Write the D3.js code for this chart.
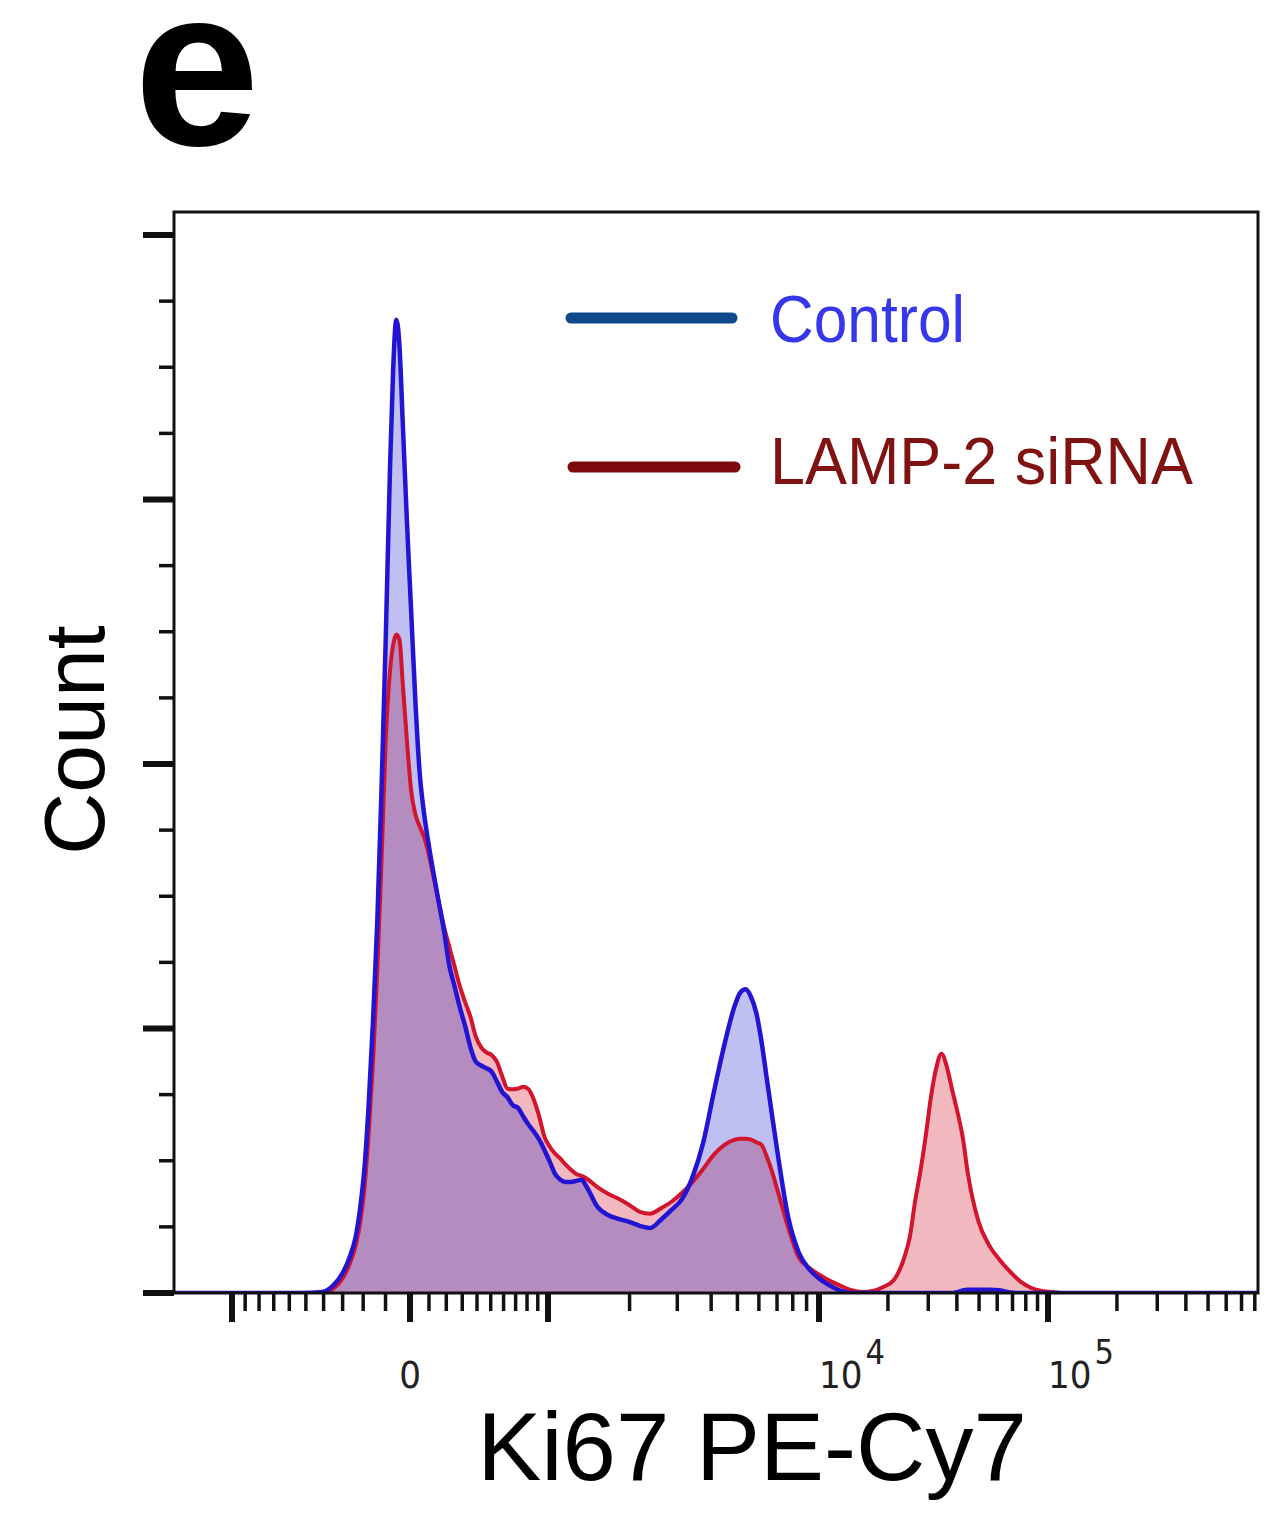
<!DOCTYPE html>
<meta charset="utf-8">
<style>
body { margin: 0; background: #fff; }
svg { display: block; }
.sans { font-family: "Liberation Sans", Arial, Helvetica, sans-serif; }
.flow { font-family: "DejaVu Sans Condensed", "DejaVu Sans", sans-serif; font-stretch: condensed; }
</style>
<svg width="1282" height="1519"></svg>
<script src="https://cdn.jsdelivr.net/npm/d3@7/dist/d3.min.js"></script>
<script>

// histogram, binned on FlowJo display channels (0-1024)
var channel = [0,120,140,150,160,166,172,176,180,184,188,192,196,200,204,207,210,213,216,220,
  224,228,232,236,240,245,250,255,260,265,270,275,280,285,290,295,300,305,310,315,
  320,325,330,335,340,345,350,355,360,365,370,375,380,385,390,400,410,420,430,440,
  450,460,470,480,490,500,510,520,530,535,540,545,550,555,560,565,570,580,590,600,
  610,620,630,640,650,660,670,680,690,695,700,705,710,715,720,725,730,735,740,745,
  750,760,770,780,790,800,810,820,830,840,850,860,880,900,1024];

var control = [0,0,0.4,2.7,8,13.6,22,32.6,47.7,72,103,140,190,247,311,349,368,358,330,292,
  258,224,197,182,171,159,148,137,124,116,108,101,93,87.5,86,85,83.7,80,76,74,
  71,70,66.7,63.6,61,58,54,49.6,45,42.8,42,42,42.4,42.8,40,32.6,29.5,28,26.9,25.4,
  24.6,27.7,31.4,35.6,44,57,76,94,109,113.6,114.8,112,106,95,81,67,53.4,29,15.5,9,
  5.3,2.7,0.8,0,0,0,0,0,0,0,0,0,0,0,0,0,0,0,0.3,1,
  1.2,1.2,1.2,1,0.2,0,0,0,0,0,0,0,0,0,0];

var lamp2 = [0,0,0,1.5,6,11,18.6,27,40,61,87.5,121.6,163,209,235,245,249,247,231,209,
  190,181,176.5,172.7,167,157.6,148,138.6,131,123.5,116,110,104.5,97,93,91,90,87.5,82,77.3,
  77,77.3,78,77,73,66.7,59,55.3,52.7,50.8,48.5,46.6,45,44.3,43.2,40,37.5,35.6,33.3,30.7,
  30,32,34.5,37.9,42,47,52.3,56,58,58.3,58.3,58,57,56,51.5,45.8,39,25,13.6,9.5,
  6.8,4.5,2.7,1.1,0.4,0.8,2.3,4.9,13.6,21,34.5,45.8,59,74,85,90.5,85.6,77,68.6,59,
  45,27,18,12.5,8,4.2,1.9,0.8,0.4,0,0,0,0,0,0];

var seriesNames = ["Control", "LAMP-2 siRNA"];

// axis values
var xMajor = [-1000, 0, 1e3, 1e4, 1e5];
var xLabelValues = [0, 1e4, 1e5];
var xLabelExp = ["", "4", "5"];
var yMajor = [0, 100, 200, 300, 400];

var svg = d3.select("svg");
var frame = {left: 174, top: 212, right: 1258, bottom: 1293};

var xChan = d3.scaleLinear().domain([0, 1024]).range([frame.left, frame.right]);
var y = d3.scaleLinear().domain([0, 408.7]).range([frame.bottom, frame.top]);

// biexponential-like display: symlog around zero, log above 10^3
var xNear = d3.scaleSymlog().constant(1000).domain([-1000, 0, 1000]).range([232, 410, 548]);
var xFar = d3.scaleLog().domain([1e3, 1e4, 1e5]).range([548, 819, 1048]);
function xVal(v) { return v > 1000 ? xFar(v) : xNear(v); }

var rows = channel.map(function(c, i) {
  return {c: c, a: control[i], b: lamp2[i], m: Math.min(control[i], lamp2[i])};
});

svg.append("clipPath").attr("id", "plotclip")
  .append("rect")
    .attr("x", frame.left).attr("y", frame.top)
    .attr("width", frame.right - frame.left).attr("height", frame.bottom - frame.top);

var plot = svg.append("g").attr("clip-path", "url(#plotclip)");

function area(key) {
  return d3.area().curve(d3.curveMonotoneX)
    .x(function(d) { return xChan(d.c); })
    .y0(y(0))
    .y1(function(d) { return y(d[key]); });
}
function line(key) {
  return d3.line().curve(d3.curveMonotoneX)
    .x(function(d) { return xChan(d.c); })
    .y(function(d) { return y(d[key]); });
}

plot.append("path").datum(rows).attr("d", area("a")).attr("fill", "#bfbff2");
plot.append("path").datum(rows).attr("d", area("b")).attr("fill", "#f1b9bf");
plot.append("path").datum(rows).attr("d", area("m")).attr("fill", "#b58cc0");

plot.append("path").datum(rows).attr("d", line("b"))
  .attr("fill", "none").attr("stroke", "#d2142c").attr("stroke-width", 4)
  .attr("stroke-linejoin", "round");
plot.append("path").datum(rows).attr("d", line("a"))
  .attr("fill", "none").attr("stroke", "#2214d2").attr("stroke-width", 4.5)
  .attr("stroke-linejoin", "round");

// frame
svg.append("rect")
  .attr("x", frame.left).attr("y", frame.top)
  .attr("width", frame.right - frame.left).attr("height", frame.bottom - frame.top)
  .attr("fill", "none").attr("stroke", "#111").attr("stroke-width", 3);

// y ticks
var yMinor = d3.range(0, 401, 25).filter(function(v) { return yMajor.indexOf(v) < 0; });
svg.append("g").selectAll("line").data(yMajor).enter().append("line")
  .attr("x1", 143).attr("x2", frame.left)
  .attr("y1", function(d) { return y(d); }).attr("y2", function(d) { return y(d); })
  .attr("stroke", "#111").attr("stroke-width", 6);
svg.append("g").selectAll("line").data(yMinor).enter().append("line")
  .attr("x1", 159).attr("x2", frame.left)
  .attr("y1", function(d) { return y(d); }).attr("y2", function(d) { return y(d); })
  .attr("stroke", "#111").attr("stroke-width", 3.5);

// x ticks
var xMinor = d3.range(-900, 1000, 100).filter(function(v) { return v !== 0; })
  .concat(d3.scaleLog().domain([1e3, 8e5]).ticks())
  .filter(function(v) { return xMajor.indexOf(v) < 0 && xVal(v) < frame.right - 2; });

svg.append("g").selectAll("line").data(xMinor).enter().append("line")
  .attr("x1", xVal).attr("x2", xVal)
  .attr("y1", frame.bottom).attr("y2", 1311)
  .attr("stroke", "#111").attr("stroke-width", 3.5);
svg.append("g").selectAll("line").data(xMajor).enter().append("line")
  .attr("x1", xVal).attr("x2", xVal)
  .attr("y1", frame.bottom).attr("y2", 1322)
  .attr("stroke", "#111").attr("stroke-width", 6);

// x tick labels
var labels = svg.append("g").attr("class", "flow").attr("fill", "#222");
xLabelValues.forEach(function(v, i) {
  var t = labels.append("text")
    .attr("x", xVal(v)).attr("y", 1388)
    .attr("font-size", 38)
    .attr("text-anchor", xLabelExp[i] ? "start" : "middle");
  if (xLabelExp[i]) {
    t.append("tspan").text("10");
    t.append("tspan").attr("dx", 3).attr("dy", -24).attr("font-size", 34).text(xLabelExp[i]);
  } else {
    t.text("0");
  }
});

// axis titles
svg.append("text").attr("class", "sans")
  .attr("x", 752).attr("y", 1480)
  .attr("text-anchor", "middle").attr("font-size", 96).attr("fill", "#000")
  .text("Ki67 PE-Cy7");

svg.append("text").attr("class", "sans")
  .attr("transform", "translate(104,740) rotate(-90)")
  .attr("text-anchor", "middle").attr("font-size", 86).attr("fill", "#000")
  .text("Count");

// panel letter
svg.append("text").attr("class", "sans")
  .attr("x", 134).attr("y", 145)
  .attr("font-size", 226).attr("font-weight", "bold").attr("fill", "#000")
  .text("e");

// legend
var legend = [
  {name: seriesNames[0], line: "#0f4a8c", text: "#3636ea", x1: 571, x2: 732, ly: 318, ty: 342, len: 195},
  {name: seriesNames[1], line: "#7c0a0c", text: "#801212", x1: 573, x2: 735, ly: 467, ty: 484, len: 423}
];
var lg = svg.append("g");
lg.selectAll("line").data(legend).enter().append("line")
  .attr("x1", function(d) { return d.x1; }).attr("x2", function(d) { return d.x2; })
  .attr("y1", function(d) { return d.ly; }).attr("y2", function(d) { return d.ly; })
  .attr("stroke", function(d) { return d.line; })
  .attr("stroke-width", 11).attr("stroke-linecap", "round");
lg.selectAll("text").data(legend).enter().append("text")
  .attr("class", "sans")
  .attr("x", 770).attr("y", function(d) { return d.ty; })
  .attr("font-size", 66)
  .attr("textLength", function(d) { return d.len; })
  .attr("lengthAdjust", "spacingAndGlyphs")
  .attr("fill", function(d) { return d.text; })
  .text(function(d) { return d.name; });

</script>
